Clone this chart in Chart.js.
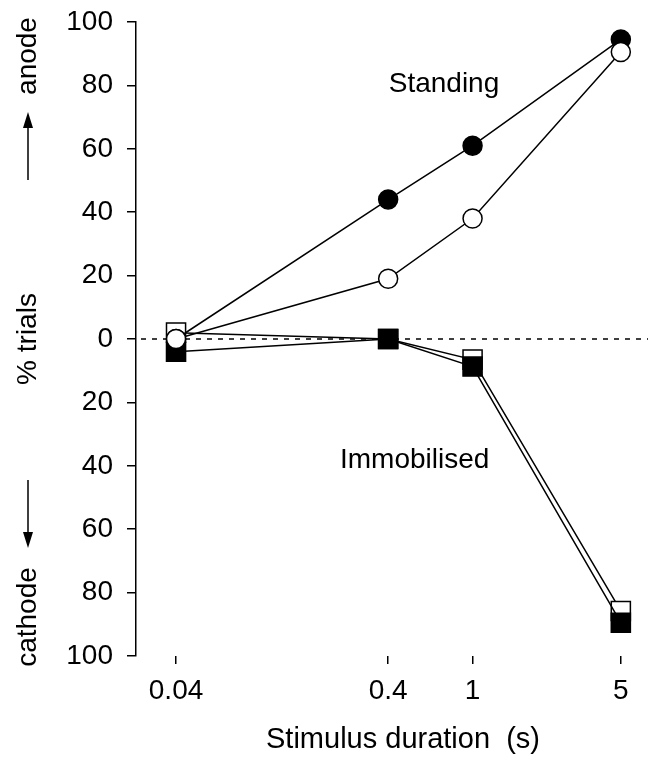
<!DOCTYPE html>
<html>
<head>
<meta charset="utf-8">
<script src="https://cdn.jsdelivr.net/npm/chart.js@4/dist/chart.umd.min.js"></script>
<style>
  body { margin: 0; background: #fff; }
</style>
</head>
<body>
<canvas id="myChart" width="648" height="757"></canvas>
<script>
// stimulus durations (s)
var durations = [0.04, 0.4, 1, 5];
var xTicks = [0.04, 0.4, 1, 5];
var yTicks = [-100, -80, -60, -40, -20, 0, 20, 40, 60, 80, 100];

// % trials, positive = anode, negative = cathode
var standingFilled = [0, 44, 61, 94.5];
var standingOpen = [0, 19, 38, 90.5];
var immobFilled = [-4, 0, -8.7, -89.5];
var immobOpen = [2, 0, -6.5, -85.8];

var FONT = 'Liberation Sans, Arial, sans-serif';

function toPoints(ys) {
    var pts = [];
    for (let i = 0; i < durations.length; i++) {
        pts.push({x: durations[i], y: ys[i]});
    }
    return pts;
}

function make_set(ys, style, filled, radius) {
    return {
        data: toPoints(ys),
        showLine: true,
        borderColor: '#000',
        borderWidth: 1.5,
        pointStyle: style,
        pointRadius: radius,
        pointHoverRadius: radius,
        pointBorderWidth: 1.5,
        pointBorderColor: '#000',
        pointBackgroundColor: filled ? '#000' : '#fff'
    };
}

function noPad(scale) {
    scale.paddingTop = 0;
    scale.paddingBottom = 0;
    scale.paddingLeft = 0;
    scale.paddingRight = 0;
}

var extras = {
    id: 'extras',
    beforeDatasetsDraw(chart) {
        var ctx = chart.ctx;
        var y0 = chart.scales.y.getPixelForValue(0);
        ctx.save();
        ctx.strokeStyle = '#000';
        ctx.lineWidth = 1.5;
        ctx.setLineDash([5, 6]);
        ctx.beginPath();
        ctx.moveTo(chart.chartArea.left + 5, y0);
        ctx.lineTo(648, y0);
        ctx.stroke();
        ctx.restore();
    },
    afterDraw(chart) {
        var ctx = chart.ctx;
        ctx.save();
        ctx.fillStyle = '#000';
        ctx.strokeStyle = '#000';
        ctx.font = '28px ' + FONT;
        ctx.textAlign = 'center';
        ctx.textBaseline = 'middle';
        ctx.fillText('Standing', 444, 84);
        ctx.textAlign = 'left';
        ctx.textBaseline = 'alphabetic';
        ctx.fillText('Immobilised', 340, 468);
        ctx.textAlign = 'center';
        ctx.textBaseline = 'middle';
        ctx.font = '29px ' + FONT;
        ctx.fillText('Stimulus duration  (s)', 403, 740);

        // rotated y labels
        ctx.font = '28px ' + FONT;
        ctx.save();
        ctx.translate(28, 0);
        ctx.rotate(-Math.PI / 2);
        ctx.fillText('anode', -56, 0);
        ctx.fillText('% trials', -339, 0);
        ctx.fillText('cathode', -617, 0);
        ctx.restore();

        // arrows
        ctx.lineWidth = 1.5;
        ctx.beginPath();
        ctx.moveTo(28, 180); ctx.lineTo(28, 122);
        ctx.moveTo(28, 480); ctx.lineTo(28, 537);
        ctx.stroke();
        ctx.beginPath();
        ctx.moveTo(28, 112); ctx.lineTo(23, 128); ctx.lineTo(33, 128); ctx.closePath();
        ctx.moveTo(28, 548); ctx.lineTo(23, 532); ctx.lineTo(33, 532); ctx.closePath();
        ctx.fill();
        ctx.restore();
    }
};

new Chart('myChart', {
    type: 'scatter',
    data: {
        datasets: [
            make_set(standingOpen, 'circle', false, 9.5),
            make_set(standingFilled, 'circle', true, 9.5),
            make_set(immobFilled, 'rect', true, 13.5),
            make_set(immobOpen, 'rect', false, 13.5)
        ]
    },
    options: {
        responsive: false,
        animation: false,
        layout: { autoPadding: false, padding: { top: 22, right: 3, left: 0, bottom: 0 } },
        plugins: {
            legend: { display: false },
            tooltip: { enabled: false }
        },
        scales: {
            x: {
                type: 'logarithmic',
                min: 0.0259,
                max: 6.5,
                bounds: 'data',
                afterBuildTicks: function(scale) {
                    scale.ticks = xTicks.map(function(v) { return {value: v}; });
                },
                afterFit: function(scale) { scale.height = 101; noPad(scale); },
                border: { display: false },
                grid: {
                    drawOnChartArea: false,
                    drawTicks: true,
                    tickLength: 8,
                    color: '#000',
                    lineWidth: 1.5
                },
                ticks: {
                    color: '#000',
                    font: { size: 28, family: FONT },
                    padding: 10,
                    maxRotation: 0,
                    autoSkip: false,
                    callback: function(v) { return String(v); }
                }
            },
            y: {
                min: -100,
                max: 100,
                afterBuildTicks: function(scale) {
                    scale.ticks = yTicks.map(function(v) { return {value: v}; });
                },
                afterFit: function(scale) { scale.width = 136; noPad(scale); },
                border: { display: true, color: '#000', width: 1.5 },
                grid: {
                    drawOnChartArea: false,
                    drawTicks: true,
                    tickLength: 9,
                    color: '#000',
                    lineWidth: 1.5
                },
                ticks: {
                    color: '#000',
                    font: { size: 28, family: FONT },
                    padding: 14,
                    callback: function(v) { return String(Math.abs(v)); }
                }
            }
        }
    },
    plugins: [extras]
});
</script>
</body>
</html>
